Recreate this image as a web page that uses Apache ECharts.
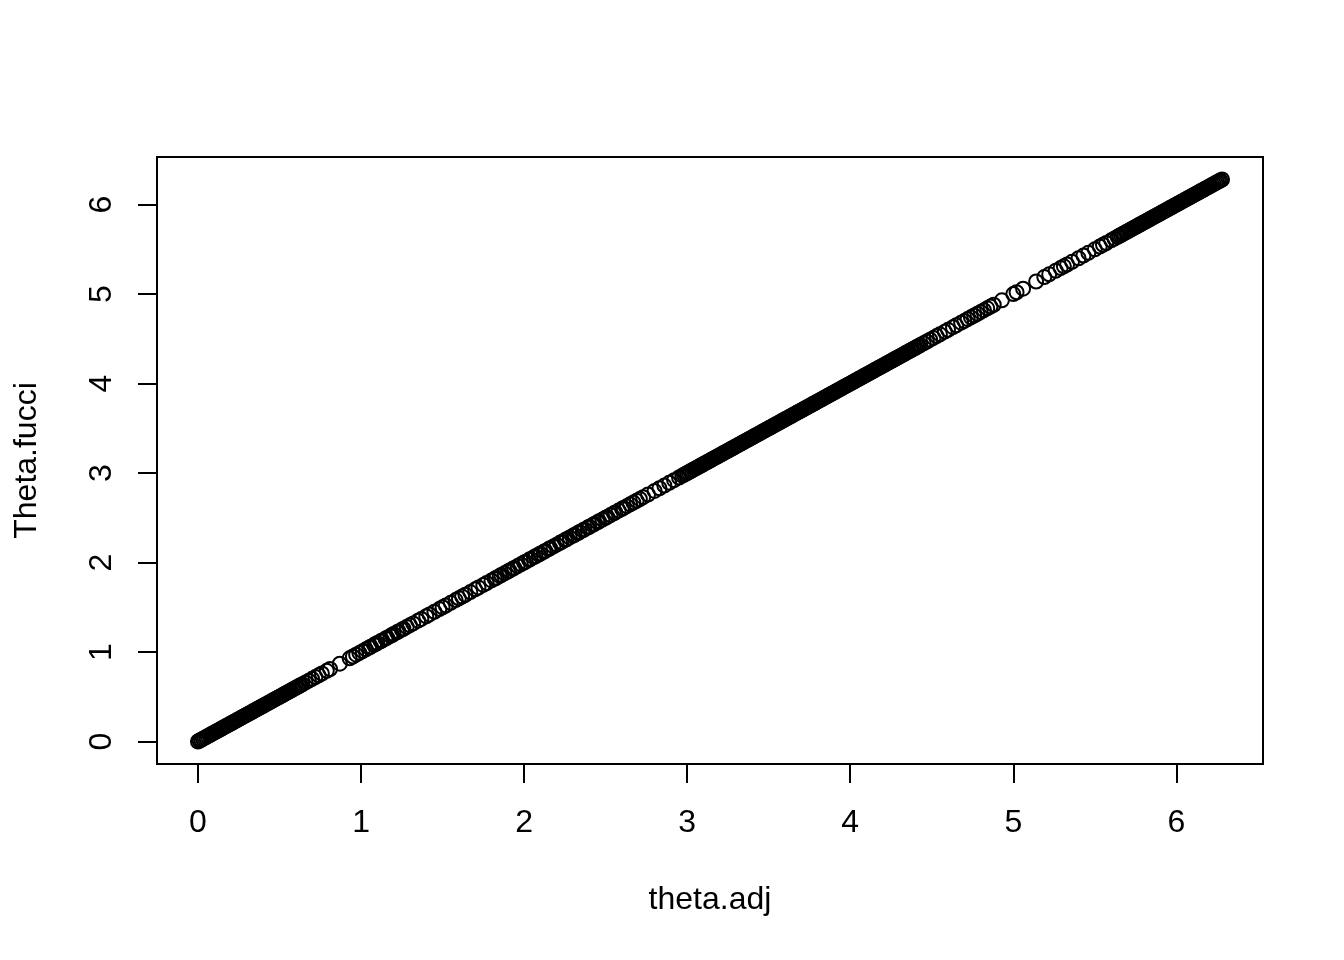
<!DOCTYPE html>
<html>
<head>
<meta charset="utf-8">
<script src="https://cdn.jsdelivr.net/npm/echarts@6/dist/echarts.min.js"></script>
<style>html,body{margin:0;padding:0;background:#fff;}#c{width:1344px;height:960px;}</style>
</head>
<body>
<div id="c"></div>
<script>
const xTicks = [0, 1, 2, 3, 4, 5, 6];
const yTicks = [0, 1, 2, 3, 4, 5, 6];
const xName = 'theta.adj';
const yName = 'Theta.fucci';

const thetaAdj = [
0,0.01,0.02,0.03,0.04,0.05,0.06,0.07,0.08,0.09,0.1,0.11,0.12,0.13,0.14,0.15,0.16,0.17,0.18,0.19,0.2,0.21,0.22,0.23,0.24,0.25,0.26,0.27,0.28,0.29,0.3,0.31,0.32,0.33,0.34,0.35,0.36,0.37,0.38,0.39,0.4,0.41,0.42,0.43,0.44,0.45,0.46,0.47,0.48,0.49,0.5,0.51,0.52,0.53,0.54,0.55,0.56,0.57,0.58,0.59,0.6,0.61,0.62,0.63,0.64,0.66,0.68,
0.7,0.72,0.74,0.76,0.79,0.81,0.87,0.93,0.95,0.97,0.99,1.01,1.03,
1.05,1.06,1.08,1.09,1.1,1.12,1.13,1.15,1.16,1.18,1.19,1.2,1.22,1.23,1.25,1.26,1.28,
1.3,1.32,1.35,1.37,1.4,1.42,1.45,1.48,1.5,1.52,1.55,1.58,1.6,1.62,1.64,1.67,1.7,1.72,1.75,1.77,1.8,
1.82,1.83,1.85,1.86,1.88,1.9,1.91,1.93,1.94,1.96,1.98,2,2.01,2.03,2.04,2.06,2.07,2.09,2.1,2.12,2.13,2.15,2.16,2.18,2.2,2.22,2.23,2.25,2.26,2.28,2.3,
2.31,2.33,2.34,2.36,2.37,2.39,2.4,2.42,2.43,2.45,2.46,2.48,2.5,2.51,2.53,2.55,2.56,2.58,2.6,2.61,2.63,2.65,2.67,2.69,2.71,2.73,2.76,2.8,2.83,2.86,2.89,2.92,2.95,
2.97,2.98,2.99,3,3.01,3.02,3.03,3.04,3.05,3.06,3.07,3.08,3.09,3.1,3.11,3.12,3.13,3.14,3.15,3.16,3.17,3.18,3.19,3.2,3.21,3.22,3.23,3.24,3.25,3.26,3.27,3.28,3.29,3.3,3.31,3.32,3.33,3.34,3.35,3.36,3.37,3.38,3.39,3.4,3.41,3.42,3.43,3.44,3.45,3.46,3.47,3.48,3.49,3.5,3.51,3.52,3.53,3.54,3.55,3.56,3.57,3.58,3.59,3.6,3.61,3.62,3.63,3.64,3.65,3.66,3.67,3.68,3.69,3.7,3.71,3.72,3.73,3.74,3.75,3.76,3.77,3.78,3.79,3.8,3.81,3.82,3.83,3.84,3.85,3.86,3.87,3.88,3.89,3.9,3.91,3.92,3.93,3.94,3.95,3.96,3.97,3.98,3.99,4,4.01,4.02,4.03,4.04,4.05,4.06,4.07,4.08,4.09,4.1,4.11,4.12,4.13,4.14,4.15,4.16,4.17,4.18,4.19,4.2,4.21,4.22,4.23,4.24,4.25,4.26,4.27,4.28,4.29,4.3,4.31,4.32,4.33,4.34,4.35,4.36,4.37,4.38,4.39,4.4,4.41,4.42,4.43,4.45,
4.47,4.49,4.51,4.53,4.55,4.58,4.6,4.63,4.65,4.68,4.7,4.72,4.74,4.76,4.78,4.8,4.82,4.84,4.86,4.88,4.93,5,5.02,5.06,5.14,5.19,5.22,5.26,5.29,5.31,5.33,5.36,5.4,5.43,5.46,5.5,5.53,5.55,5.57,5.6,5.62,5.64,
5.65,5.66,5.67,5.68,5.69,5.7,5.71,5.72,5.73,5.74,5.75,5.76,5.77,5.78,5.79,5.8,5.81,5.82,5.83,5.84,5.85,5.86,5.87,5.88,5.89,5.9,5.91,5.92,5.93,5.94,5.95,5.96,5.97,5.98,5.99,6,6.01,6.02,6.03,6.04,6.05,6.06,6.07,6.08,6.09,6.1,6.11,6.12,6.13,6.14,6.15,6.16,6.17,6.18,6.19,6.2,6.21,6.22,6.23,6.24,6.25,6.26,6.27,6.28
];

const thetaFucci = [
0,0.01,0.02,0.03,0.04,0.05,0.06,0.07,0.08,0.09,0.1,0.11,0.12,0.13,0.14,0.15,0.16,0.17,0.18,0.19,0.2,0.21,0.22,0.23,0.24,0.25,0.26,0.27,0.28,0.29,0.3,0.31,0.32,0.33,0.34,0.35,0.36,0.37,0.38,0.39,0.4,0.41,0.42,0.43,0.44,0.45,0.46,0.47,0.48,0.49,0.5,0.51,0.52,0.53,0.54,0.55,0.56,0.57,0.58,0.59,0.6,0.61,0.62,0.63,0.64,0.66,0.68,
0.7,0.72,0.74,0.76,0.79,0.81,0.87,0.93,0.95,0.97,0.99,1.01,1.03,
1.05,1.06,1.08,1.09,1.1,1.12,1.13,1.15,1.16,1.18,1.19,1.2,1.22,1.23,1.25,1.26,1.28,
1.3,1.32,1.35,1.37,1.4,1.42,1.45,1.48,1.5,1.52,1.55,1.58,1.6,1.62,1.64,1.67,1.7,1.72,1.75,1.77,1.8,
1.82,1.83,1.85,1.86,1.88,1.9,1.91,1.93,1.94,1.96,1.98,2,2.01,2.03,2.04,2.06,2.07,2.09,2.1,2.12,2.13,2.15,2.16,2.18,2.2,2.22,2.23,2.25,2.26,2.28,2.3,
2.31,2.33,2.34,2.36,2.37,2.39,2.4,2.42,2.43,2.45,2.46,2.48,2.5,2.51,2.53,2.55,2.56,2.58,2.6,2.61,2.63,2.65,2.67,2.69,2.71,2.73,2.76,2.8,2.83,2.86,2.89,2.92,2.95,
2.97,2.98,2.99,3,3.01,3.02,3.03,3.04,3.05,3.06,3.07,3.08,3.09,3.1,3.11,3.12,3.13,3.14,3.15,3.16,3.17,3.18,3.19,3.2,3.21,3.22,3.23,3.24,3.25,3.26,3.27,3.28,3.29,3.3,3.31,3.32,3.33,3.34,3.35,3.36,3.37,3.38,3.39,3.4,3.41,3.42,3.43,3.44,3.45,3.46,3.47,3.48,3.49,3.5,3.51,3.52,3.53,3.54,3.55,3.56,3.57,3.58,3.59,3.6,3.61,3.62,3.63,3.64,3.65,3.66,3.67,3.68,3.69,3.7,3.71,3.72,3.73,3.74,3.75,3.76,3.77,3.78,3.79,3.8,3.81,3.82,3.83,3.84,3.85,3.86,3.87,3.88,3.89,3.9,3.91,3.92,3.93,3.94,3.95,3.96,3.97,3.98,3.99,4,4.01,4.02,4.03,4.04,4.05,4.06,4.07,4.08,4.09,4.1,4.11,4.12,4.13,4.14,4.15,4.16,4.17,4.18,4.19,4.2,4.21,4.22,4.23,4.24,4.25,4.26,4.27,4.28,4.29,4.3,4.31,4.32,4.33,4.34,4.35,4.36,4.37,4.38,4.39,4.4,4.41,4.42,4.43,4.45,
4.47,4.49,4.51,4.53,4.55,4.58,4.6,4.63,4.65,4.68,4.7,4.72,4.74,4.76,4.78,4.8,4.82,4.84,4.86,4.88,4.93,5,5.02,5.06,5.14,5.19,5.22,5.26,5.29,5.31,5.33,5.36,5.4,5.43,5.46,5.5,5.53,5.55,5.57,5.6,5.62,5.64,
5.65,5.66,5.67,5.68,5.69,5.7,5.71,5.72,5.73,5.74,5.75,5.76,5.77,5.78,5.79,5.8,5.81,5.82,5.83,5.84,5.85,5.86,5.87,5.88,5.89,5.9,5.91,5.92,5.93,5.94,5.95,5.96,5.97,5.98,5.99,6,6.01,6.02,6.03,6.04,6.05,6.06,6.07,6.08,6.09,6.1,6.11,6.12,6.13,6.14,6.15,6.16,6.17,6.18,6.19,6.2,6.21,6.22,6.23,6.24,6.25,6.26,6.27,6.28
];

const points = thetaAdj.map((v, i) => [v, thetaFucci[i]]);

// R-style 4% axis extension
const xMin = Math.min(...thetaAdj), xMax = Math.max(...thetaAdj);
const yMin = Math.min(...thetaFucci), yMax = Math.max(...thetaFucci);
const xPad = (xMax - xMin) * 0.04, yPad = (yMax - yMin) * 0.04;

const FONT = "'Liberation Sans', Arial, Helvetica, sans-serif";
const chart = echarts.init(document.getElementById('c'), null, {renderer: 'canvas'});
chart.setOption({
  animation: false,
  backgroundColor: '#fff',
  grid: {
    left: 157, right: 81, top: 157, bottom: 196,
    show: true, borderColor: '#000', borderWidth: 2, backgroundColor: 'transparent'
  },
  xAxis: {
    type: 'value',
    min: xMin - xPad, max: xMax + xPad,
    name: xName, nameLocation: 'middle', nameGap: 120,
    nameTextStyle: {color: '#000', fontSize: 32, fontFamily: FONT},
    axisLine: {show: false, onZero: false},
    splitLine: {show: false},
    axisTick: {show: true, inside: false, length: 19, lineStyle: {color: '#000', width: 2}, customValues: xTicks},
    axisLabel: {show: true, color: '#000', fontSize: 32, fontFamily: FONT, margin: 43, customValues: xTicks,
      formatter: v => String(Math.round(v))}
  },
  yAxis: {
    type: 'value',
    min: yMin - yPad, max: yMax + yPad,
    name: yName, nameLocation: 'middle', nameGap: 114, nameRotate: 90,
    nameTextStyle: {color: '#000', fontSize: 32, fontFamily: FONT},
    axisLine: {show: false, onZero: false},
    splitLine: {show: false},
    axisTick: {show: true, inside: false, length: 19, lineStyle: {color: '#000', width: 2}, customValues: yTicks},
    axisLabel: {show: true, color: '#000', fontSize: 32, fontFamily: FONT, margin: 39, rotate: 90, customValues: yTicks,
      formatter: v => String(Math.round(v))}
  },
  series: [{
    type: 'scatter',
    data: points,
    symbol: 'circle',
    symbolSize: 14,
    large: false,
    itemStyle: {color: 'rgba(0,0,0,0)', borderColor: '#000', borderWidth: 2, opacity: 1},
    emphasis: {disabled: true}
  }]
});
</script>
</body>
</html>
